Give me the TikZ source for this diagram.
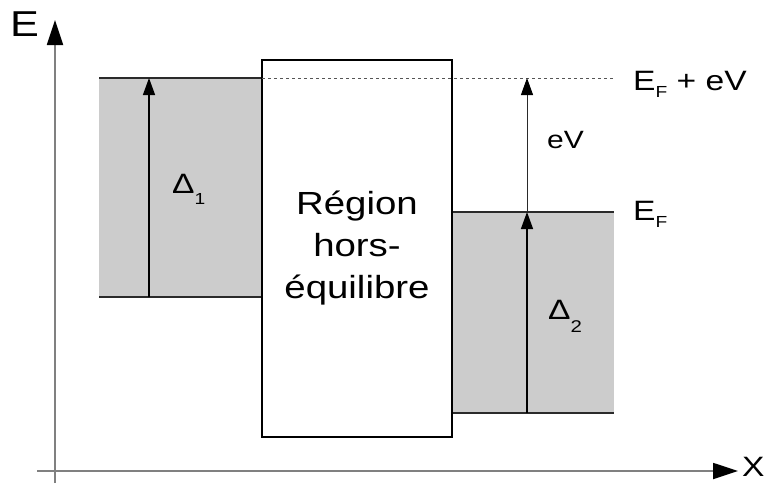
\documentclass[tikz,border=0pt]{standalone}
\usepackage{fontspec}
\setmainfont{Liberation Sans}[FakeStretch=1.2]
\usetikzlibrary{arrows.meta}
\definecolor{bandgray}{HTML}{CCCCCC}
\definecolor{axisgray}{HTML}{808080}
\definecolor{edgedark}{HTML}{2A2A2A}
\definecolor{dashgray}{HTML}{555555}
\begin{document}
\begin{tikzpicture}[x=1pt,y=-1pt,
  axis/.style={draw=axisgray, line width=1.8pt, -{Triangle[length=25pt,width=16pt,color=black]}},
  band/.style={fill=bandgray, draw=none},
  edgeline/.style={draw=edgedark, line width=1.5pt},
  arr/.style={draw=black, line width=1.4pt, -{Triangle[length=17pt,width=12pt]}},
  arrthin/.style={draw=edgedark, line width=1pt, -{Triangle[length=17pt,width=12pt,color=black]}},
  lbl/.style={inner sep=0pt, anchor=base west},
  levelline/.style={draw=dashgray, line width=1pt, dash pattern=on 3pt off 3pt}
]
\useasboundingbox (0,0) rectangle (769,483);
% axes
\coordinate (yb) at (55,483);
\coordinate (yt) at (55,20);
\coordinate (xl) at (37,471);
\coordinate (xr) at (738,471);
\draw[axis] (yb) -- (yt);
\draw[axis] (xl) -- (xr);
\node[lbl, font=\fontsize{36}{36}\selectfont] (Elab) at (10,36) {E};
\node[lbl, font=\fontsize{28}{28}\selectfont] (Xlab) at (742,476) {X};
% left band
\coordinate (L1) at (99,78);
\coordinate (L2) at (262,297);
\fill[band] (L1) rectangle (L2);
\draw[edgeline] (L1) -- (L1 -| L2);
\draw[edgeline] (L1 |- L2) -- (L2);
% right band
\coordinate (R1) at (452,212);
\coordinate (R2) at (614,413);
\fill[band] (R1) rectangle (R2);
\draw[edgeline] (R1) -- (R1 -| R2);
\draw[edgeline] (R1 |- R2) -- (R2);
% central region
\node[draw=black, line width=1.5pt, fill=white, minimum width=190pt, minimum height=377pt,
      inner sep=0pt, align=center, font=\fontsize{32}{42}\selectfont] (region) at (357,248.5)
      {Région\\hors-\\équilibre};
% dashed level
\coordinate (d1) at (262,78);
\coordinate (d2) at (613,78);
\draw[levelline] (d1) -- (d2);
% arrows
\coordinate (a1s) at (149,297);
\coordinate (a1e) at (149,78);
\draw[arr] (a1s) -- (a1e);
\coordinate (a2s) at (527,413);
\coordinate (a2e) at (527,212);
\coordinate (a3e) at (527,78);
\draw[arr] (a2s) -- (a2e);
\draw[arrthin] (a2e) -- (a3e);
% labels
\node[lbl, font=\fontsize{28}{28}\selectfont] (EFeV) at (633,90)
  {E\raisebox{-7pt}{\fontsize{16}{16}\selectfont F} + eV};
\node[lbl, font=\fontsize{28}{28}\selectfont] (EF) at (633,220)
  {E\raisebox{-7pt}{\fontsize{16}{16}\selectfont F}};
\node[lbl, font=\fontsize{25}{25}\selectfont] (eV) at (547,148) {eV};
\node[lbl, font=\fontsize{28}{28}\selectfont] (D1) at (172,193)
  {Δ\raisebox{-11pt}{\fontsize{16}{16}\selectfont 1}};
\node[lbl, font=\fontsize{28}{28}\selectfont] (D2) at (548,319)
  {Δ\raisebox{-13pt}{\fontsize{17}{17}\selectfont 2}};
\end{tikzpicture}
\end{document}
